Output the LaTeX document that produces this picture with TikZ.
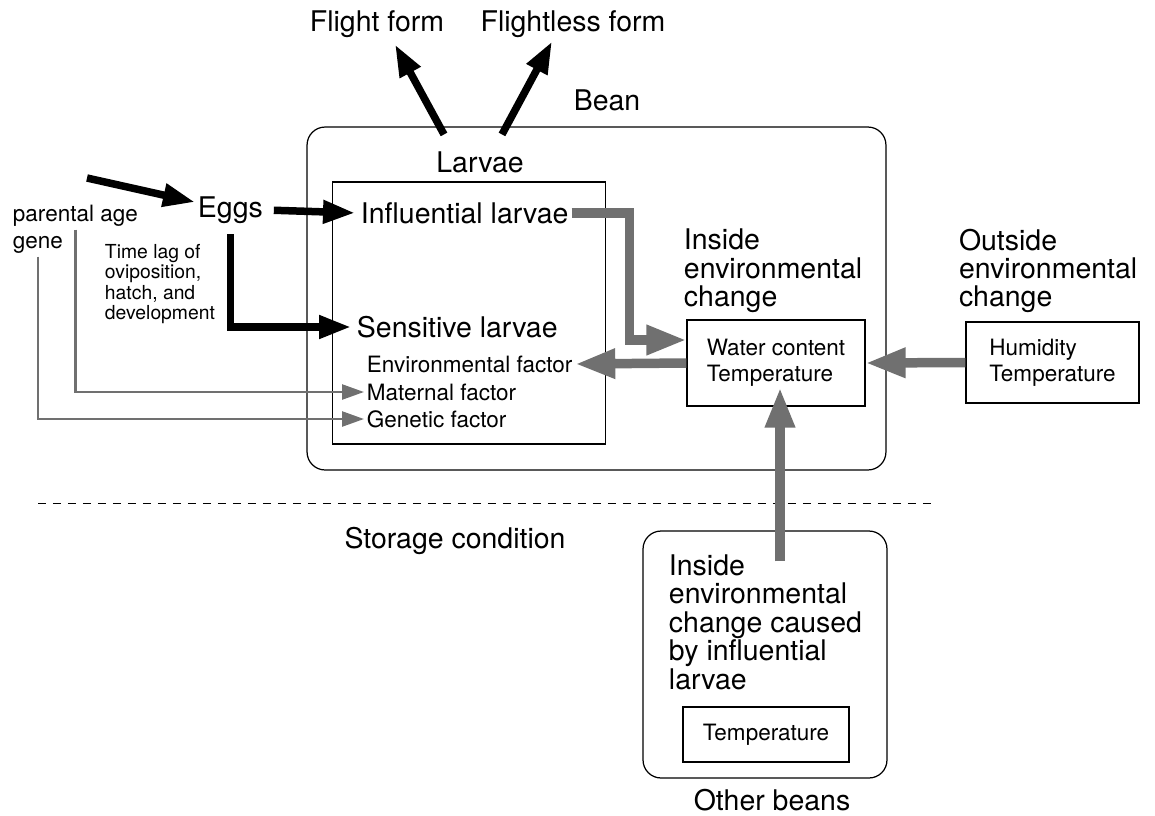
\documentclass[tikz,border=0pt]{standalone}
\usepackage{fontspec}
\setmainfont{TeX Gyre Heros}
\usetikzlibrary{
  calc,
  arrows.meta,
  positioning
}
\definecolor{flowgray}{RGB}{112,112,112}

\begin{document}
\begin{tikzpicture}[
            x=0.02cm, y=-0.02cm,
            bigtext/.style={font=\fontsize{16.2}{16.2}\selectfont, inner sep=1.5pt},
            midtext/.style={font=\fontsize{12.8}{15}\selectfont, inner sep=1.5pt},
            smalltext/.style={font=\fontsize{11}{11.6}\selectfont, inner sep=1.5pt},
            plainbox/.style={rectangle, draw=black, line width=0.7pt, align=left},
            roundbox/.style={rectangle, draw=black, line width=0.7pt, rounded corners=0.36cm},
            blackarrow/.style={line width=0.15cm, -{Triangle[length=0.64cm, width=0.44cm]}},
            grayarrow/.style={draw=flowgray, line width=0.19cm, -{Triangle[length=0.8cm, width=0.56cm]}},
            thinarrow/.style={draw=flowgray, line width=0.05cm, -{Triangle[length=0.44cm, width=0.3cm]}}
        ]
        \useasboundingbox (0,0) rectangle (1155,815);

        % Boxes
        \node (bean) [roundbox, minimum width=11.58cm, minimum height=6.86cm] at (596.5,298.5) {};
        \node (larvaebox) [plainbox, minimum width=5.46cm, minimum height=5.24cm] at (469,313) {};
        \node (water) [plainbox, midtext, minimum width=3.56cm, minimum height=1.72cm] at (776,363) {Water content\\Temperature};
        \node (humid) [plainbox, midtext, minimum width=3.46cm, minimum height=1.62cm] at (1052.5,362.5) {Humidity\\Temperature};
        \node (other) [roundbox, minimum width=4.88cm, minimum height=4.94cm] at (765,654.5) {};
        \node (othertemp) [plainbox, midtext, minimum width=3.32cm, minimum height=1.1cm] at (766,734.5) {Temperature};

        % Labels
        \node (flight) [bigtext] at (377,24) {Flight form};
        \node (flightless) [bigtext] at (573,24) {Flightless form};
        \node (beanlbl) [bigtext] at (607,100) {Bean};
        \node (larvae) [bigtext] at (480,162) {Larvae};
        \node (eggs) [bigtext, anchor=west] at (195,210) {Eggs};
        \node (age) [midtext, anchor=west] at (10,216) {parental age};
        \node (gene) [midtext, anchor=west] at (10,245) {gene};
        \node (timelag) [smalltext, anchor=west, align=left] at (102,284) {Time lag of\\oviposition,\\hatch, and\\development};
        \node (influential) [bigtext, anchor=west] at (358,213) {Influential larvae};
        \node (sensitive) [bigtext, anchor=west] at (354,327) {Sensitive larvae};
        \node (envfac) [midtext, anchor=west] at (364,364) {Environmental factor};
        \node (maternal) [midtext, anchor=west] at (364,392) {Maternal factor};
        \node (genetic) [midtext, anchor=west] at (364,419) {Genetic factor};
        \node (inside) [bigtext, anchor=west, align=left] at (681,271) {Inside\\environmental\\change};
        \node (outside) [bigtext, anchor=west, align=left] at (956,271) {Outside\\environmental\\change};
        \node (caused) [bigtext, anchor=west, align=left] at (666,622) {Inside\\environmental\\change caused\\by influential\\larvae};
        \node (otherlbl) [bigtext] at (772,800) {Other beans};
        \node (storage) [bigtext] at (455,541) {Storage condition};

        \coordinate (ovi) at (87,178);
        \coordinate (storeL) at (38,503);
        \coordinate (storeR) at (935,503);

        % Connections
        \draw [dashed, dash pattern=on 0.16cm off 0.14cm, line width=0.5pt] (storeL) -- (storeR);

        \draw [blackarrow] (ovi) -- (eggs);
        \draw [blackarrow, shorten <=0.16cm, shorten >=0.06cm] (eggs.east) -- (influential.west);
        \draw [blackarrow, shorten <=0.16cm, shorten >=0.06cm] (eggs.south) |- (sensitive.west);
        \draw [blackarrow] ($(larvae.north)+(-36,-14)$) -- ($(flight.south)+(18,4)$);
        \draw [blackarrow] ($(larvae.north)+(22,-14)$) -- ($(flightless.south)+(-21,1)$);

        \draw [thinarrow] (age.south) |- (maternal.west);
        \draw [thinarrow] (gene.south) |- (genetic.west);

        \draw [grayarrow] (influential.east) -- ++(58,0) |- ($(water.west)+(0,-23)$);
        \draw [grayarrow] (water.west) -- (envfac.east);
        \draw [grayarrow] (humid.west) -- (water.east);
        \draw [grayarrow] ($(other.north)+(15,31)$) -- ($(water.south)+(4,-19)$);

    \end{tikzpicture}
\end{document}
